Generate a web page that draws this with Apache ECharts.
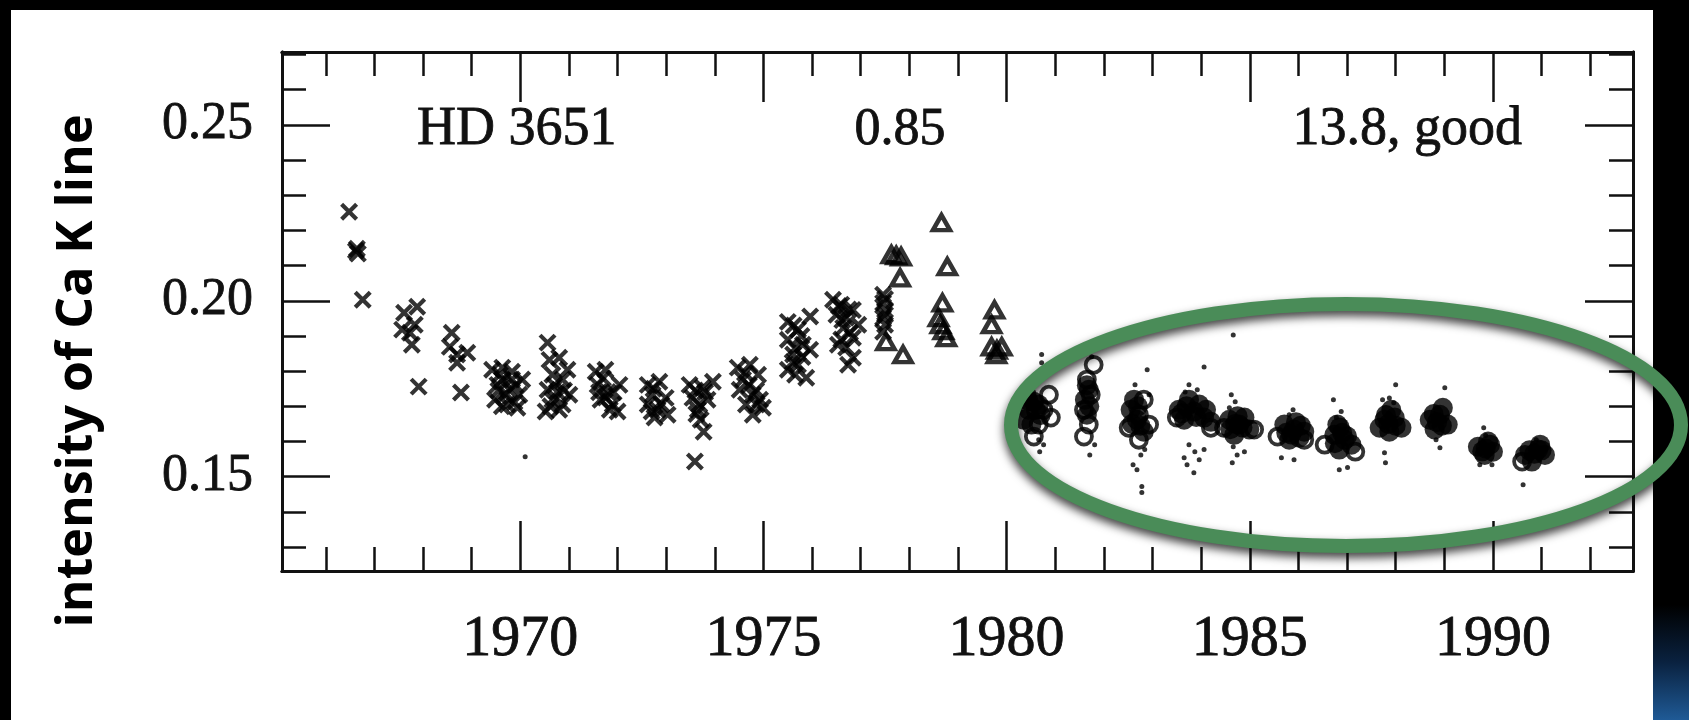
<!DOCTYPE html>
<html><head><meta charset="utf-8">
<script src="https://cdn.jsdelivr.net/npm/echarts@6/dist/echarts.min.js"></script>
<style>html,body{margin:0;padding:0;background:#000}#c{width:1689px;height:720px}</style>
</head><body><div id="c"></div>
<script>
// ---- tick labels / axis values ----
const yearTicks = [1966,1967,1968,1969,1970,1971,1972,1973,1974,1975,1976,1977,1978,1979,1980,1981,1982,1983,1984,1985,1986,1987,1988,1989,1990,1991,1992];
const majorYears = [1970,1975,1980,1985,1990];
const valueTicks = [0.13,0.14,0.15,0.16,0.17,0.18,0.19,0.20,0.21,0.22,0.23,0.24,0.25,0.26,0.27];
const majorValues = [0.15,0.20,0.25];
const annotations = ['HD 3651','0.85','13.8, good'];
const yTitle = 'intensity of Ca K line';

// ---- data: [year, intensity] ----
const crosses = [
 [1966.48,0.2253],[1966.62,0.2142],[1966.66,0.2134],[1966.64,0.2148],[1966.76,0.2003],
 [1967.61,0.1966],[1967.88,0.1983],[1967.73,0.1909],[1967.57,0.1918],[1967.83,0.1932],[1967.77,0.1875],[1967.91,0.1756],
 [1968.59,0.1909],[1968.55,0.1869],[1968.70,0.1847],[1968.91,0.1852],[1968.70,0.1824],[1968.78,0.1739],
 [1969.42,0.1804],[1969.63,0.1810],[1969.83,0.1798],[1970.04,0.1776],[1969.53,0.1761],[1969.77,0.1747],[1969.98,0.1733],[1969.48,0.1719],[1969.73,0.1705],[1969.94,0.1696],[1969.63,0.1776],[1969.83,0.1776],
 [1969.58,0.1790],[1969.90,0.1760],[1969.68,0.1733],[1969.55,0.1745],[1969.88,0.1712],[1969.62,0.1700],
 [1970.56,0.1881],[1970.60,0.1832],[1970.80,0.1838],[1970.97,0.1804],[1970.66,0.1790],[1970.87,0.1776],[1970.56,0.1747],[1970.76,0.1741],[1971.01,0.1733],[1970.66,0.1719],[1970.87,0.1705],[1970.52,0.1685],
 [1970.70,0.1760],[1970.90,0.1745],[1970.62,0.1700],[1970.80,0.1690],
 [1971.55,0.1798],[1971.75,0.1804],[1972.04,0.1761],[1971.59,0.1761],[1971.80,0.1741],[1971.65,0.1719],[1971.90,0.1705],[1972.00,0.1685],[1971.84,0.1690],
 [1971.70,0.1780],[1971.62,0.1740],[1971.75,0.1725],[1971.92,0.1740],
 [1972.62,0.1761],[1972.86,0.1770],[1972.72,0.1733],[1972.99,0.1724],[1972.62,0.1705],[1972.82,0.1690],[1973.03,0.1676],[1972.76,0.1668],
 [1972.74,0.1750],[1972.90,0.1705],[1972.70,0.1685],
 [1973.48,0.1761],[1973.75,0.1753],[1973.96,0.1770],[1973.54,0.1724],[1973.85,0.1719],[1973.65,0.1690],[1973.71,0.1662],[1973.77,0.1628],[1973.59,0.1543],
 [1973.60,0.1745],[1973.80,0.1740],[1973.68,0.1705],[1973.62,0.1678],
 [1974.47,0.1810],[1974.72,0.1818],[1974.89,0.1790],[1974.58,0.1776],[1974.51,0.1747],[1974.78,0.1733],[1974.93,0.1719],[1974.99,0.1696],[1974.78,0.1676],[1974.64,0.1705],
 [1974.62,0.1795],[1974.70,0.1760],[1974.85,0.1745],[1974.86,0.1705],
 [1975.50,0.1940],[1975.96,0.1955],[1975.71,0.1918],[1975.50,0.1889],[1975.81,0.1875],[1975.61,0.1847],[1975.96,0.1861],[1975.71,0.1818],[1975.50,0.1804],[1975.88,0.1781],[1975.65,0.1790],
 [1975.62,0.1930],[1975.78,0.1900],[1975.65,0.1865],[1975.80,0.1840],[1975.60,0.1825],
 [1976.43,0.2003],[1976.60,0.1989],[1976.84,0.1974],[1976.70,0.1952],[1976.50,0.1960],[1976.95,0.1932],[1976.64,0.1923],[1976.84,0.1895],[1976.70,0.1867],[1976.84,0.1838],[1976.74,0.1818],[1976.53,0.1875],
 [1976.55,0.1985],[1976.75,0.1975],[1976.62,0.1945],[1976.78,0.1910],[1976.60,0.1890],
 [1977.46,0.2017],[1977.46,0.1994],[1977.50,0.1974],[1977.46,0.1952],[1977.50,0.1932],[1977.46,0.1912],[1977.50,0.2005],[1977.50,0.1960]
];
const triangles = [
 [1977.52,0.1884],[1977.87,0.1847],[1977.63,0.2131],[1977.83,0.2125],[1977.81,0.2065],[1977.73,0.2128],
 [1978.66,0.2222],[1978.78,0.2097],[1978.68,0.1994],[1978.60,0.1952],[1978.64,0.1932],[1978.76,0.1895],[1978.70,0.1915],
 [1979.75,0.1974],[1979.69,0.1932],[1979.69,0.1869],[1979.90,0.1869],[1979.79,0.1847],[1979.80,0.1860]
];
const circles = [
 [1980.87,0.1733],[1980.76,0.1690],[1980.66,0.1648],[1980.56,0.1614],[1980.91,0.1668],
 [1981.79,0.1818],[1981.65,0.1776],[1981.73,0.1733],[1981.59,0.1690],[1981.69,0.1648],[1981.59,0.1614],
 [1982.82,0.1719],[1982.72,0.1676],[1982.93,0.1648],[1982.51,0.1639],[1982.72,0.1605],
 [1983.50,0.1668],[1984.20,0.1639],
 [1985.09,0.1634],[1984.47,0.1639],
 [1985.57,0.1614],[1986.12,0.1605],
 [1986.54,0.1591],[1987.17,0.1571],
 [1990.60,0.1543]
];
const blobs = [
 [1980.41,0.1733],[1980.56,0.1713],[1980.45,0.1690],[1980.66,0.1705],[1980.35,0.1662],[1980.51,0.1648],
 [1980.60,0.1690],[1980.45,0.1715],[1980.70,0.1675],
 [1981.69,0.1747],[1981.65,0.1676],[1981.61,0.1719],[1981.65,0.1760],[1981.70,0.1700],
 [1982.55,0.1690],[1982.68,0.1662],[1982.82,0.1628],[1982.62,0.1719],[1982.70,0.1700],[1982.75,0.1645],[1982.58,0.1650],
 [1983.54,0.1690],[1983.75,0.1719],[1983.85,0.1685],[1984.06,0.1668],[1983.65,0.1662],[1983.96,0.1705],[1984.20,0.1656],
 [1983.70,0.1700],[1983.90,0.1670],[1984.10,0.1690],[1983.60,0.1680],
 [1984.58,0.1662],[1984.78,0.1648],[1984.99,0.1634],[1984.68,0.1619],[1984.89,0.1668],
 [1984.70,0.1650],[1984.85,0.1640],[1984.75,0.1672],[1984.60,0.1635],
 [1985.71,0.1648],[1985.91,0.1634],[1986.12,0.1628],[1985.81,0.1605],[1986.02,0.1611],
 [1985.85,0.1620],[1985.95,0.1655],[1985.75,0.1625],[1986.05,0.1645],
 [1986.74,0.1619],[1986.95,0.1605],[1986.84,0.1577],[1987.09,0.1591],[1986.80,0.1648],
 [1986.90,0.1625],[1986.75,0.1595],[1987.00,0.1615],[1986.85,0.1640],
 [1987.77,0.1662],[1987.98,0.1668],[1988.12,0.1639],[1987.87,0.1628],[1987.67,0.1639],[1987.91,0.1690],
 [1987.85,0.1650],[1988.00,0.1645],[1987.80,0.1675],
 [1988.70,0.1662],[1988.91,0.1676],[1989.07,0.1648],[1988.80,0.1634],[1988.97,0.1696],
 [1988.85,0.1655],[1988.95,0.1645],[1988.78,0.1678],
 [1989.69,0.1585],[1989.94,0.1591],[1989.83,0.1562],[1990.00,0.1571],
 [1989.85,0.1580],[1989.78,0.1572],[1989.90,0.1600],
 [1990.66,0.1562],[1990.93,0.1577],[1991.07,0.1562],[1990.80,0.1543],[1990.97,0.1591],
 [1990.85,0.1565],[1990.75,0.1575],[1991.00,0.1575]
];
const dots = [
 [1970.10,0.1557],
 [1980.72,0.1847],[1980.72,0.1824],[1980.68,0.1571],[1980.66,0.1605],[1980.76,0.1591],
 [1981.71,0.1562],[1981.75,0.1841],[1981.81,0.1591],
 [1982.89,0.1804],[1982.60,0.1534],[1982.78,0.1472],[1982.78,0.1455],[1982.64,0.1761],[1982.93,0.1733],[1982.76,0.1562],[1982.84,0.1577],[1982.68,0.1520],
 [1983.75,0.1761],[1983.67,0.1741],[1983.92,0.1747],[1984.06,0.1812],[1983.85,0.1511],[1983.75,0.1591],[1983.87,0.1571],[1983.65,0.1554],[1984.06,0.1577],[1983.96,0.1548],[1983.71,0.1534],
 [1984.66,0.1903],[1984.62,0.1733],[1984.70,0.1713],[1984.58,0.1696],[1984.66,0.1585],[1984.74,0.1562],[1984.64,0.1540],[1984.89,0.1571],
 [1985.65,0.1554],[1985.91,0.1548],[1985.89,0.1690],[1985.81,0.1676],
 [1986.72,0.1719],[1986.84,0.1520],[1987.01,0.1526],[1986.78,0.1668],[1986.88,0.1685],
 [1988.00,0.1761],[1987.79,0.1540],[1987.87,0.1724],[1987.96,0.1710],[1987.77,0.1568],[1987.73,0.1719],
 [1989.01,0.1753],[1988.91,0.1582],[1988.83,0.1605],
 [1989.81,0.1639],[1989.85,0.1617],[1989.73,0.1534],[1989.98,0.1534],
 [1990.62,0.1477],[1990.89,0.1605]
];

const INK = '#000';
const SERIF = '"Liberation Serif", "Times New Roman", serif';
const X_MIN = 1965.1, X_MAX = 1992.88, Y_MIN = 0.1232, Y_MAX = 0.2707;
const minorYears = yearTicks.filter(v => majorYears.indexOf(v) < 0);
const minorValues = valueTicks.filter(v => majorValues.indexOf(v) < 0);

function xAxis(position, ticks, len, labels) {
  return {
    type: 'value', min: X_MIN, max: X_MAX, position: position,
    axisLine: {show: true, onZero: false, lineStyle: {color: '#111', width: 3}},
    axisTick: {show: true, inside: true, length: len, customValues: ticks, lineStyle: {color: '#111', width: 2.5}},
    axisLabel: labels ? {show: true, customValues: majorYears, margin: 40, color: '#111', fontSize: 58, fontFamily: SERIF,
      textBorderColor: '#111', textBorderWidth: 0.8, formatter: v => String(Math.round(v))} : {show: false},
    splitLine: {show: false}
  };
}
function yAxis(position, ticks, len, labels) {
  return {
    type: 'value', min: Y_MIN, max: Y_MAX, position: position,
    axisLine: {show: true, onZero: false, lineStyle: {color: '#111', width: 3}},
    axisTick: {show: true, inside: true, length: len, customValues: ticks, lineStyle: {color: '#111', width: 2.5}},
    axisLabel: labels ? {show: true, customValues: majorValues, margin: 29, color: '#111', fontSize: 52, fontFamily: SERIF,
      textBorderColor: '#111', textBorderWidth: 0.8, formatter: v => v.toFixed(2)} : {show: false},
    splitLine: {show: false}
  };
}

const chart = echarts.init(document.getElementById('c'), null, {renderer: 'canvas'});
const crossPath = 'path://M0,0L10,10M0,10L10,0';
chart.setOption({
  animation: false,
  backgroundColor: '#ffffff',
  grid: {left: 282, right: 56, top: 52, bottom: 149, containLabel: false},
  xAxis: [xAxis('bottom', majorYears, 50, true), xAxis('bottom', minorYears, 24, false),
          xAxis('top', majorYears, 50, false), xAxis('top', minorYears, 24, false)],
  yAxis: [yAxis('left', majorValues, 48, true), yAxis('left', minorValues, 24, false),
          yAxis('right', majorValues, 48, false), yAxis('right', minorValues, 24, false)],
  series: [
    {type: 'scatter', name: 'crosses', data: crosses, symbol: crossPath, symbolSize: 15,
     itemStyle: {color: INK, borderColor: INK, borderWidth: 4.2}, emphasis: {disabled: true}},
    {type: 'scatter', name: 'triangles', data: triangles, symbol: 'triangle', symbolSize: [17, 15],
     itemStyle: {color: 'rgba(255,255,255,0)', borderColor: INK, borderWidth: 4.5}, emphasis: {disabled: true}},
    {type: 'scatter', name: 'blobs', data: blobs, symbol: 'circle', symbolSize: 20,
     itemStyle: {color: INK}, emphasis: {disabled: true}},
    {type: 'scatter', name: 'circles', data: circles, symbol: 'circle', symbolSize: 16,
     itemStyle: {color: 'rgba(255,255,255,0)', borderColor: INK, borderWidth: 3.8}, emphasis: {disabled: true}},
    {type: 'scatter', name: 'dots', data: dots, symbol: 'circle', symbolSize: 5,
     itemStyle: {color: INK}, emphasis: {disabled: true}}
  ],
  graphic: [
    {type: 'rect', z: 50, shape: {x: 0, y: 0, width: 1689, height: 10}, style: {fill: '#000'}},
    {type: 'rect', z: 50, shape: {x: 0, y: 0, width: 11, height: 720}, style: {fill: '#000'}},
    {type: 'rect', z: 50, shape: {x: 1653, y: 0, width: 36, height: 720},
     style: {fill: new echarts.graphic.LinearGradient(0, 0, 0, 1, [
       {offset: 0, color: '#000'}, {offset: 0.84, color: '#000'}, {offset: 0.92, color: '#0a2240'}, {offset: 1, color: '#1f5a96'}])}},
    {type: 'text', z: 60, x: 78, y: 371, rotation: Math.PI / 2,
     style: {text: yTitle, font: 'bold 50px "Open Sans", "Noto Sans", sans-serif', fill: '#000', align: 'center', verticalAlign: 'middle'}},
    {type: 'text', z: 60, x: 417, y: 130, style: {text: annotations[0], font: '54px ' + SERIF, fill: '#111', stroke: '#111', lineWidth: 0.8, align: 'left', verticalAlign: 'middle'}},
    {type: 'text', z: 60, x: 900, y: 130, style: {text: annotations[1], font: '52px ' + SERIF, fill: '#111', stroke: '#111', lineWidth: 0.8, align: 'center', verticalAlign: 'middle'}},
    {type: 'text', z: 60, x: 1522, y: 130, style: {text: annotations[2], font: '54px ' + SERIF, fill: '#111', stroke: '#111', lineWidth: 0.8, align: 'right', verticalAlign: 'middle'}},
    {type: 'ellipse', z: 80, shape: {cx: 1346, cy: 425, rx: 335, ry: 121},
     style: {fill: 'none', stroke: '#4a8c58', lineWidth: 14, shadowBlur: 10, shadowOffsetY: 5, shadowColor: 'rgba(0,0,0,0.75)'}}
  ]
});
</script>
</body></html>
